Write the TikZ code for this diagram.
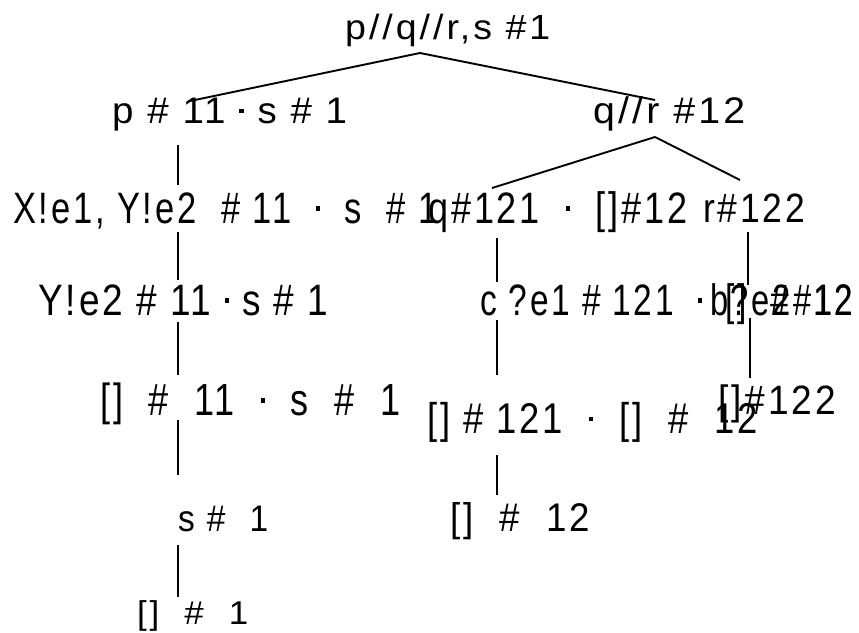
\documentclass[tikz,border=0pt]{standalone}
\usepackage{fontspec}
\setmainfont[LetterSpace=8]{Liberation Sans}
\usepackage{graphicx}
\newcommand{\lbl}[3]{{\fontsize{#2}{#2}\selectfont\resizebox{#1pt}{\height}{#3}}}
\newcommand{\sqd}{\raisebox{0.27em}{\rule{0.11em}{0.11em}}}
\begin{document}
\begin{tikzpicture}[x=1pt,y=-1pt,
  lab/.style={anchor=base west, inner sep=0pt},
  edge/.style={line width=1.9pt}]
\useasboundingbox[fill=white] (0,0) rectangle (859,632);
% nodes
\node[lab] (root) at (345,39) {\lbl{205}{35}{p//q//r,s \#1}};
\node[lab] (pl) at (112,123) {\lbl{235}{37}{p \# 11 \sqd{} s \# 1}};
\node[lab] (qr) at (593,123) {\lbl{152}{37}{q//r \#12}};
\node[lab] (xy) at (13,223) {\lbl{424}{44}{X!e1, Y!e2\ \ \# 11\ \ \sqd\ \ s\ \ \# 1}};
\node[lab] (q121) at (428,223) {\lbl{259}{44}{q\#121\ \ \sqd\ \ []\#12}};
\node[lab] (r122) at (703,222) {\lbl{102}{41}{r\#122}};
\node[lab] (y) at (38,315) {\lbl{290}{44}{Y!e2 \# 11\ \sqd{} s \# 1}};
\node[lab] (c) at (480,315) {\lbl{373}{44}{c ?e1 \# 121\ \ \sqd\ \ []\ \ \#\ \ 12}};
\node[lab] (b) at (710,315) {\lbl{143}{44}{b?e2\#12}};
\node[lab] (e11) at (100,415) {\lbl{300}{45}{[]\ \ \#\ \ 11\ \ \sqd\ \ s\ \ \#\ \ 1}};
\node[lab] (e121) at (427,433) {\lbl{331}{43}{[] \# 121\ \ \sqd\ \ []\ \ \#\ \ 12}};
\node[lab] (e122) at (718,414) {\lbl{118}{41}{[]\#122}};
\node[lab] (e12) at (450,531) {\lbl{140}{40}{[]\ \ \#\ \ 12}};
\node[lab] (s1) at (178,531) {\lbl{90}{37}{s \#\ \ 1}};
\node[lab] (e1) at (137,624) {\lbl{111}{33}{[]\ \ \#\ \ 1}};
% connector end points
\coordinate (root-s) at (420,53);
\coordinate (pl-n) at (190,101);
\coordinate (qr-n) at (655,100);
\coordinate (qr-s) at (655,137);
\coordinate (q121-n) at (492,188);
\coordinate (r122-n) at (740,180);
\coordinate (pl-s) at (178,145);
\coordinate (xy-n) at (178,185);
\coordinate (xy-s) at (178,232);
\coordinate (y-n) at (178,280);
\coordinate (y-s) at (178,322);
\coordinate (e11-n) at (178,375);
\coordinate (e11-s) at (178,420);
\coordinate (s1-n) at (178,475);
\coordinate (s1-s) at (178,545);
\coordinate (e1-n) at (178,597);
\coordinate (q121-s) at (497,238);
\coordinate (c-n) at (497,282);
\coordinate (c-s) at (497,320);
\coordinate (e121-n) at (497,375);
\coordinate (e121-s) at (497,455);
\coordinate (e12-n) at (497,495);
\coordinate (r122-s) at (748,232);
\coordinate (b-n) at (748,285);
\coordinate (b-s) at (750,318);
\coordinate (e122-n) at (750,378);
% connectors
\draw[edge] (root-s) -- (pl-n);
\draw[edge] (root-s) -- (qr-n);
\draw[edge] (qr-s) -- (q121-n);
\draw[edge] (qr-s) -- (r122-n);
\draw[edge] (pl-s) -- (xy-n);
\draw[edge] (xy-s) -- (y-n);
\draw[edge] (y-s) -- (e11-n);
\draw[edge] (e11-s) -- (s1-n);
\draw[edge] (s1-s) -- (e1-n);
\draw[edge] (q121-s) -- (c-n);
\draw[edge] (c-s) -- (e121-n);
\draw[edge] (e121-s) -- (e12-n);
\draw[edge] (r122-s) -- (b-n);
\draw[edge] (b-s) -- (e122-n);
\end{tikzpicture}
\end{document}
